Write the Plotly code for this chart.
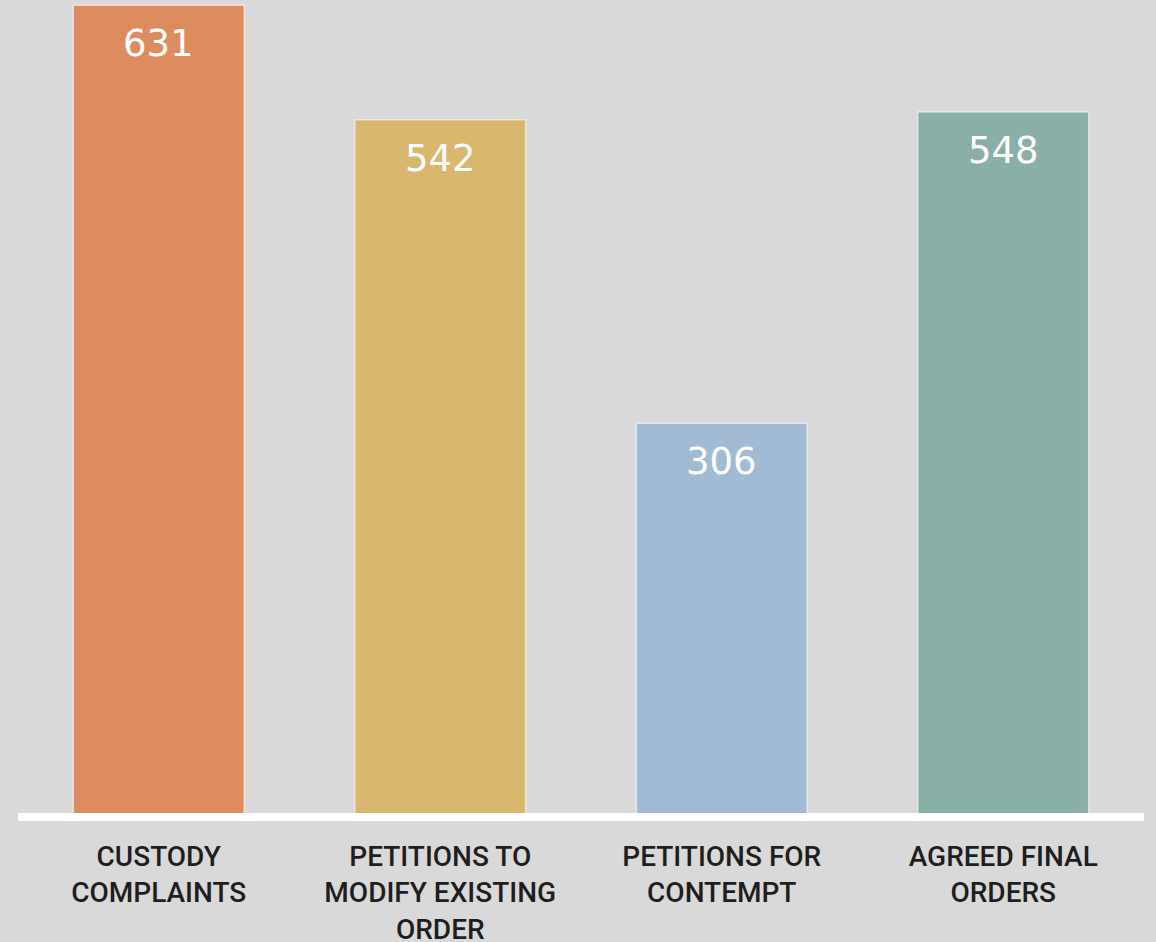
import plotly.graph_objects as go

categories = ["CUSTODY<br>COMPLAINTS", "PETITIONS TO<br>MODIFY EXISTING<br>ORDER",
              "PETITIONS FOR<br>CONTEMPT", "AGREED FINAL<br>ORDERS"]
values = [631, 542, 306, 548]
colors = ["#DC8C5E", "#D9B76E", "#A0BBD3", "#8AAFA7"]

fig = go.Figure()
fig.add_trace(go.Bar(
    x=categories, y=values,
    marker=dict(color=colors, line=dict(color="rgba(255,255,255,0.55)", width=1.5)),
    hoverinfo="skip",
))

for c, v in zip(categories, values):
    fig.add_annotation(x=c, y=v, text=str(v), showarrow=False, yanchor="top",
                       yshift=-15, font=dict(family="DejaVu Sans", size=37, color="white"))

fig.add_shape(type="line", xref="paper", yref="paper", x0=0, x1=1, y0=0, y1=0,
              line=dict(color="white", width=8), layer="above")

fig.update_layout(
    width=1156, height=942,
    margin=dict(l=18, r=12, t=4, b=125, autoexpand=False),
    paper_bgcolor="#D9D9D9", plot_bgcolor="#D9D9D9",
    bargap=0.393,
    showlegend=False,
    xaxis=dict(showgrid=False, showline=False, zeroline=False, automargin=False,
               tickfont=dict(family="Roboto", size=28, color="#1E1E1E", weight=500),
               ticklabelstandoff=20),
    yaxis=dict(visible=False, range=[0, 632], showgrid=False, zeroline=False,
               automargin=False),
)

fig.write_html("out.html", config={"displayModeBar": False},
               post_script="document.body.style.margin='0';")
